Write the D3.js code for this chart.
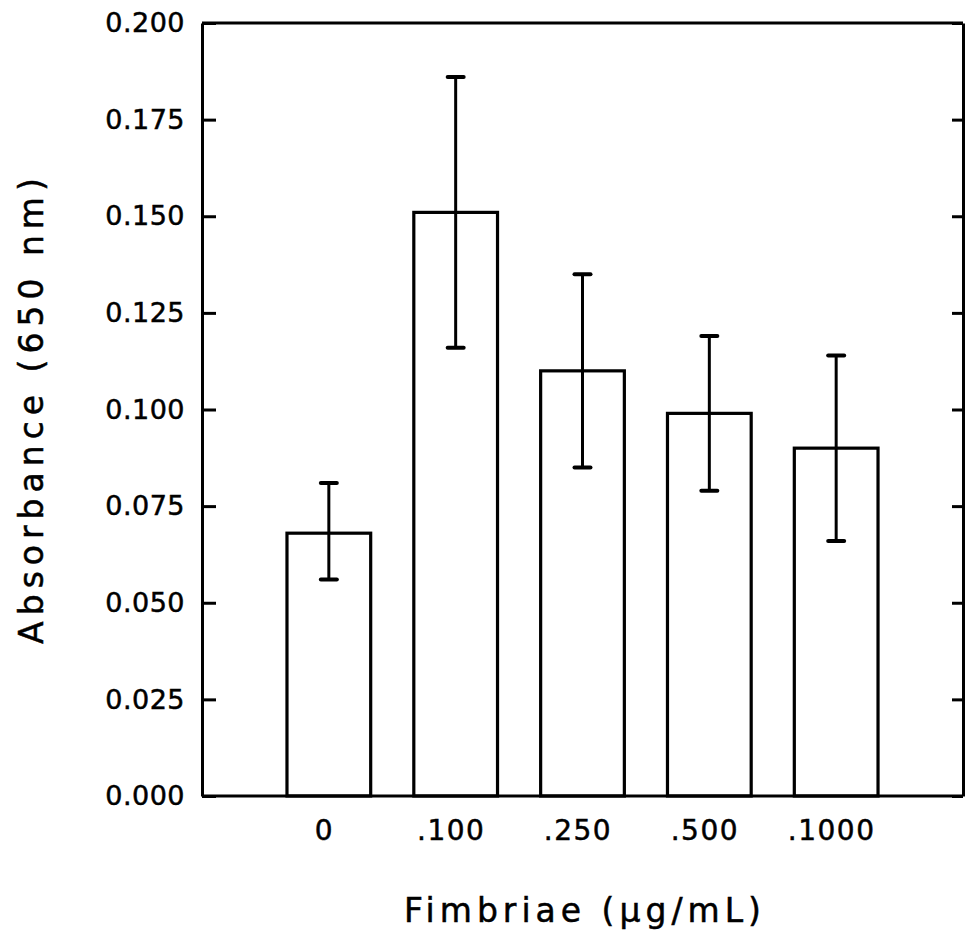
<!DOCTYPE html>
<html>
<head>
<meta charset="utf-8">
<script src="https://cdn.jsdelivr.net/npm/d3@7"></script>
<style>
	body { margin: 0; background: #fff; }
	svg { display: block; }
	text { font-family: "DejaVu Sans", sans-serif; fill: #000; stroke: #000; stroke-width: 0.5px; }
</style>
</head>
<body>
<svg id="chart" width="965" height="938"></svg>
<script>
// values
const categories = ["0", ".100", ".250", ".500", ".1000"];
const absorbance = [0.068, 0.151, 0.110, 0.099, 0.090];
const errorUpper = [0.081, 0.186, 0.135, 0.119, 0.114];
const errorLower = [0.056, 0.116, 0.085, 0.079, 0.066];
const yTicks = [0, 0.025, 0.05, 0.075, 0.1, 0.125, 0.15, 0.175, 0.2];

const width = 965,
	height = 938,
	margin = { top: 23, right: 2, bottom: 142, left: 202 };

const svg = d3.select("#chart");

const x = d3.scalePoint()
	.domain(categories)
	.range([margin.left, width - margin.right])
	.padding(1);

const y = d3.scaleLinear()
	.domain([0, 0.2])
	.range([height - margin.bottom, margin.top]);

const barWidth = x.step() * 0.66;

// top frame line
svg.append("line")
	.attr("x1", margin.left).attr("x2", width - margin.right)
	.attr("y1", y(0.2)).attr("y2", y(0.2))
	.attr("stroke", "#000").attr("stroke-width", 3);

// bars
svg.append("g")
	.selectAll("rect")
	.data(categories)
	.join("rect")
	.attr("x", d => x(d) - barWidth / 2)
	.attr("y", (d, i) => y(absorbance[i]))
	.attr("width", barWidth)
	.attr("height", (d, i) => y(0) - y(absorbance[i]))
	.attr("fill", "none")
	.attr("stroke", "#000")
	.attr("stroke-width", 3.2);

// error bars
const err = svg.append("g")
	.selectAll("g")
	.data(categories)
	.join("g")
	.attr("stroke", "#000");

err.append("line")
	.attr("x1", d => x(d)).attr("x2", d => x(d))
	.attr("y1", (d, i) => y(errorUpper[i]))
	.attr("y2", (d, i) => y(errorLower[i]))
	.attr("stroke-width", 3);

err.append("line")
	.attr("x1", d => x(d) - 8).attr("x2", d => x(d) + 8)
	.attr("y1", (d, i) => y(errorUpper[i]))
	.attr("y2", (d, i) => y(errorUpper[i]))
	.attr("stroke-width", 4)
	.attr("stroke-linecap", "round");

err.append("line")
	.attr("x1", d => x(d) - 8).attr("x2", d => x(d) + 8)
	.attr("y1", (d, i) => y(errorLower[i]))
	.attr("y2", (d, i) => y(errorLower[i]))
	.attr("stroke-width", 4)
	.attr("stroke-linecap", "round");

// left axis, ticks pointing inward
const yAxis = svg.append("g")
	.attr("transform", `translate(${margin.left},0)`)
	.call(d3.axisLeft(y).tickValues(yTicks).tickFormat(d3.format(".3f"))
		.tickSizeInner(-14).tickSizeOuter(0).tickPadding(17));
yAxis.select(".domain").attr("stroke-width", 3);
yAxis.selectAll(".tick line").attr("stroke-width", 3);
yAxis.selectAll("text")
	.attr("font-size", 27)
	.attr("font-family", null)
	.attr("letter-spacing", 0.5);

// right axis, inward ticks, no labels
const yAxisRight = svg.append("g")
	.attr("transform", `translate(${width - margin.right},0)`)
	.call(d3.axisRight(y).tickValues(yTicks).tickFormat("")
		.tickSizeInner(-11).tickSizeOuter(0));
yAxisRight.select(".domain").attr("stroke-width", 3);
yAxisRight.selectAll(".tick line").attr("stroke-width", 3);

// bottom axis, no tick marks
const xAxis = svg.append("g")
	.attr("transform", `translate(0,${y(0)})`)
	.call(d3.axisBottom(x).tickSize(0).tickPadding(24));
xAxis.select(".domain")
	.attr("d", `M${margin.left},0H${width - margin.right}`)
	.attr("stroke-width", 3);
xAxis.selectAll("text")
	.attr("font-size", 28)
	.attr("font-family", null)
	.attr("letter-spacing", 1.5)
	.attr("dx", -5);

// axis titles
svg.append("text")
	.attr("x", 585)
	.attr("y", 922)
	.attr("text-anchor", "middle")
	.attr("font-size", 33)
	.attr("letter-spacing", 5)
	.text("Fimbriae  (μg/mL)");

svg.append("text")
	.attr("transform", "translate(43,408) rotate(-90)")
	.attr("text-anchor", "middle")
	.attr("font-size", 33)
	.attr("letter-spacing", 6)
	.text("Absorbance  (650 nm)");
</script>
</body>
</html>
